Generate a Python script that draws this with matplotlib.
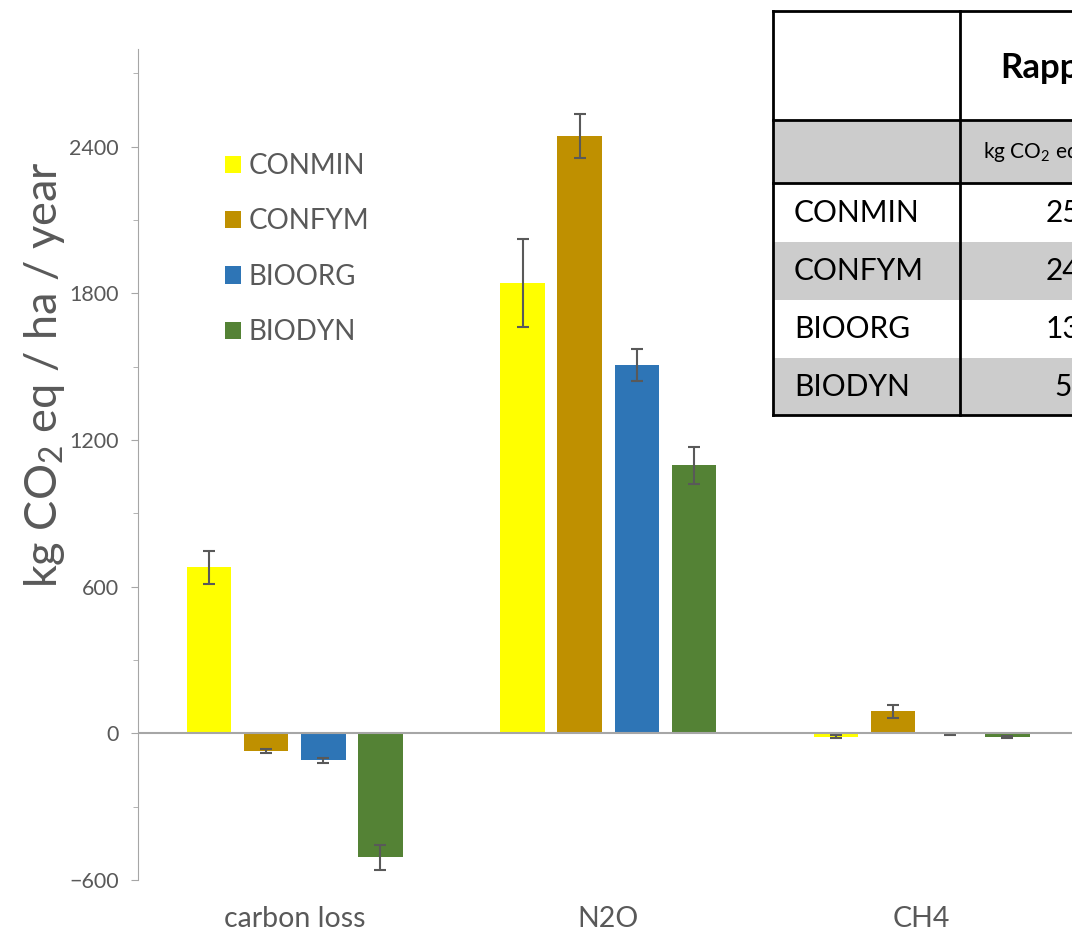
import numpy as np
import matplotlib.pyplot as plt
from matplotlib.patches import Rectangle
from matplotlib.ticker import MultipleLocator

plt.rcParams['font.family'] = ['Lato', 'DejaVu Sans']
plt.rcParams['mathtext.fontset'] = 'custom'
plt.rcParams['mathtext.rm'] = 'Lato'
plt.rcParams['mathtext.it'] = 'Lato:italic'
plt.rcParams['mathtext.bf'] = 'Lato:bold'

categories = ['carbon loss', 'N2O', 'CH4']
series = ['CONMIN', 'CONFYM', 'BIOORG', 'BIODYN']
conmin = [680, 1843, -13]
confym = [-73, 2443, 91]
bioorg = [-110, 1507, -4]
biodyn = [-507, 1096, -14]
conmin_err = [68, 180, 5]
confym_err = [8, 90, 27]
bioorg_err = [10, 65, 2]
biodyn_err = [52, 77, 4]
colors = ['#FFFF00', '#BF9000', '#2E75B6', '#548235']

values = [conmin, confym, bioorg, biodyn]
errors = [conmin_err, confym_err, bioorg_err, biodyn_err]
totals = [int(round(sum(v))) for v in values]

W, H = 1072, 934
fig = plt.figure(figsize=(W / 100, H / 100), dpi=100)
ax = fig.add_axes([138 / W, 54 / H, 940.5 / W, 831 / H])

gray = '#595959'
x = np.arange(len(categories))
bw = 0.142
step = 0.182
for i, (name, v, e, c) in enumerate(zip(series, values, errors, colors)):
    pos = x + (i - 1.5) * step
    ax.bar(pos, v, bw, color=c, label=name, zorder=2)
    ax.errorbar(pos, v, yerr=e, fmt='none', ecolor=gray, elinewidth=1.5,
                capsize=4.5, capthick=1.5, zorder=3)

ax.axhline(0, color='#A6A6A6', lw=1.5, zorder=4)
ax.set_xlim(-0.5, 2.5)
ax.set_ylim(-600, 2800)
ax.yaxis.set_major_locator(MultipleLocator(600))
ax.yaxis.set_minor_locator(MultipleLocator(300))
for s in ['top', 'right', 'bottom']:
    ax.spines[s].set_visible(False)
ax.spines['left'].set_color('#A6A6A6')
ax.tick_params(axis='y', which='major', length=5, color='#A6A6A6',
               labelsize=15.5, labelcolor=gray, pad=9)
ax.tick_params(axis='y', which='minor', length=3.6, color='#A6A6A6')
ax.set_xticks(x)
ax.set_xticklabels(categories)
ax.tick_params(axis='x', length=0, labelsize=20.5, labelcolor=gray, pad=19)

fig.text(45 / W, 1 - 375 / H, 'kg CO$_2$ eq / ha / year', rotation=90,
         ha='center', va='center', fontsize=32.5, color=gray)

ax.legend(loc='upper left', bbox_to_anchor=(225 / W, 1 - 153 / H),
          bbox_transform=fig.transFigure, frameon=False, fontsize=20,
          labelcolor=gray, handlelength=0.58, handleheight=0.58,
          handletextpad=0.28, labelspacing=1.06, borderpad=0, borderaxespad=0)

# table in the top right corner (cropped by the figure edge)
tab = fig.add_axes([0, 0, 1, 1])
tab.set_xlim(0, W)
tab.set_ylim(H, 0)
tab.axis('off')

left, mid, right = 773, 960, 1100
rows = [11, 120, 183, 242, 300, 358, 415]
fills = ['white', '#CCCCCC', 'white', '#CCCCCC', 'white', '#CCCCCC']
for r in range(len(fills)):
    tab.add_patch(Rectangle((left, rows[r]), right - left, rows[r + 1] - rows[r],
                            facecolor=fills[r], edgecolor='none', zorder=1))
lw = 2
tab.plot([left, right], [rows[0], rows[0]], color='black', lw=lw, zorder=2)
tab.plot([left, right], [rows[1], rows[1]], color='black', lw=lw, zorder=2)
tab.plot([left, right], [rows[2], rows[2]], color='black', lw=lw, zorder=2)
tab.plot([left, right], [rows[-1], rows[-1]], color='black', lw=lw, zorder=2)
tab.plot([left, left], [rows[0], rows[-1]], color='black', lw=lw, zorder=2)
tab.plot([mid, mid], [rows[0], rows[-1]], color='black', lw=lw, zorder=2)

tab.text(1000, (rows[0] + rows[1]) / 2 + 2, 'Rapport', fontsize=25,
         fontweight='bold', ha='left', va='center', zorder=3)
tab.text(983, (rows[1] + rows[2]) / 2 + 1, 'kg CO$_2$ eq / ha / year', fontsize=15,
         ha='left', va='center', zorder=3)
for k, (name, tot) in enumerate(zip(series, totals)):
    yc = (rows[k + 2] + rows[k + 3]) / 2
    tab.text(794, yc, name, fontsize=21.5, ha='left', va='center', zorder=3)
    tab.text(1080, yc, str(tot), fontsize=21.5, ha='center', va='center', zorder=3)

fig.savefig('out.png', dpi=100)
